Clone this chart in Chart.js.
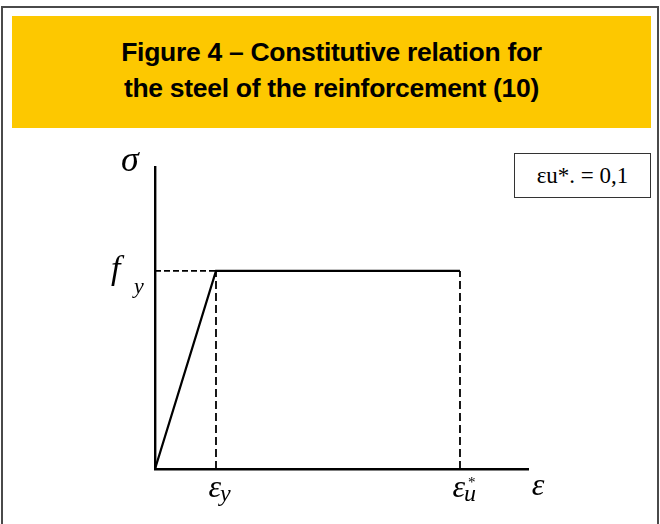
<!DOCTYPE html>
<html>
<head>
<meta charset="utf-8">
<script src="https://cdn.jsdelivr.net/npm/chart.js@4/dist/chart.umd.min.js"></script>
<style>
  html, body { margin: 0; padding: 0; background: #fff; }
  #wrap { position: relative; width: 660px; height: 524px; overflow: hidden; }
  #frame { position: absolute; left: 1px; top: 6px; width: 654px; height: 540px;
           border: 2px solid #4a4a4a; box-sizing: content-box; }
  #band { position: absolute; left: 12px; top: 16px; width: 639px; height: 112px;
          background: #fdc800; }
  #band div { position: absolute; left: 0; width: 100%; text-align: center;
              font-family: "Liberation Sans", Arial, sans-serif; font-weight: bold;
              font-size: 26.5px; color: #000; letter-spacing: -0.3px; }
  #note { position: absolute; left: 514px; top: 153px; width: 137px; height: 45px;
          border: 1px solid #333; box-sizing: border-box; text-align: center;
          font-family: "Liberation Serif", "Times New Roman", serif; font-size: 23px;
          line-height: 43px; color: #000; }
  canvas { position: absolute; left: 0; top: 0; }
</style>
</head>
<body>
<div id="wrap">
  <div id="frame"></div>
  <div id="band">
    <div style="top:21px">Figure 4 – Constitutive relation for</div>
    <div style="top:57px">the steel of the reinforcement (10)</div>
  </div>
  <div id="note">εu*. = 0,1</div>
  <canvas id="c" width="660" height="524"></canvas>
</div>
<script>
// Bilinear steel law: strain ε and normalised stress σ / fy
const epsY = 0.02;          // yield strain εy
const epsU = 0.1;           // ultimate strain εu*
const fy = 1;               // yield stress (normalised)
const strainMax = 0.1223;   // end of the ε axis
const stressMax = 1.525;    // end of the σ axis

const curveStrain = [0, epsY, epsU];
const curveStress = [0, fy, fy];

// Reference lines marking fy, εy and εu*
const guideFy  = { strain: [0, epsY], stress: [fy, fy] };
const guideEpsY = { strain: [epsY, epsY], stress: [0, fy] };
const guideEpsU = { strain: [epsU, epsU], stress: [0, fy] };

const toPoints = (xs, ys) => xs.map((x, i) => ({ x, y: ys[i] }));

// Axis labels: symbol, subscript, superscript, position on the axis
const xLabels = [
  { value: epsY, main: "ε", sub: "y", sup: "" },
  { value: epsU, main: "ε", sub: "u", sup: "*" }
];
const yLabels = [{ value: fy, main: "f", sub: "y" }];

const axisNames = {
  x: { main: "ε" },
  y: { main: "σ" }
};

const labelPlugin = {
  id: "mathLabels",
  afterDraw(chart) {
    const { ctx, scales: { x, y } } = chart;
    const base = y.getPixelForValue(0);
    const left = x.getPixelForValue(0);
    ctx.save();
    ctx.fillStyle = "#000";
    ctx.textBaseline = "alphabetic";
    // strain labels under the axis
    xLabels.forEach(l => {
      const px = x.getPixelForValue(l.value);
      ctx.font = 'italic 32px "Liberation Serif", serif';
      ctx.textAlign = "right";
      ctx.fillText(l.main, px + 5, base + 28);
      ctx.font = 'italic 24px "Liberation Serif", serif';
      ctx.textAlign = "left";
      ctx.fillText(l.sub, px + 4, base + 32);
      if (l.sup) {
        ctx.font = '15px "Liberation Serif", serif';
        ctx.fillText(l.sup, px + 8, base + 18);
      }
    });
    // stress label left of the axis
    yLabels.forEach(l => {
      const py = y.getPixelForValue(l.value);
      ctx.font = 'italic 34px "Liberation Serif", serif';
      ctx.textAlign = "left";
      ctx.fillText(l.main, left - 44, py + 8);
      ctx.font = 'italic 22px "Liberation Serif", serif';
      ctx.fillText(l.sub, left - 21, py + 22);
    });
    // axis names
    ctx.font = 'italic 32px "Liberation Serif", serif';
    ctx.textAlign = "center";
    ctx.fillText(axisNames.x.main, x.right + 10, base + 26);
    ctx.font = 'italic 36px "Liberation Serif", serif';
    ctx.fillText(axisNames.y.main, left - 25, y.top + 4);
    ctx.restore();
  }
};

const dashedH = { borderColor: "#000", borderWidth: 1.8, borderDash: [6, 3] };
const dashedV = { borderColor: "#000", borderWidth: 1.8, borderDash: [8, 4] };

new Chart(document.getElementById("c"), {
  type: "scatter",
  data: {
    datasets: [
      { data: toPoints(curveStrain, curveStress), showLine: true, borderColor: "#000",
        borderWidth: 2.2, pointRadius: 0, tension: 0 },
      { data: toPoints(guideFy.strain, guideFy.stress), showLine: true, pointRadius: 0, ...dashedH },
      { data: toPoints(guideEpsY.strain, guideEpsY.stress), showLine: true, pointRadius: 0, ...dashedV },
      { data: toPoints(guideEpsU.strain, guideEpsU.stress), showLine: true, pointRadius: 0, ...dashedV }
    ]
  },
  options: {
    responsive: false,
    animation: false,
    events: [],
    layout: { padding: { left: 155, right: 132, top: 167, bottom: 55 } },
    plugins: { legend: { display: false }, tooltip: { enabled: false }, title: { display: false } },
    scales: {
      x: { type: "linear", min: 0, max: strainMax,
           grid: { display: false, drawTicks: false, tickLength: 0 },
           ticks: { display: false, padding: 0 },
           border: { display: true, color: "#000", width: 2.4 } },
      y: { type: "linear", min: 0, max: stressMax,
           grid: { display: false, drawTicks: false, tickLength: 0 },
           ticks: { display: false, padding: 0 },
           border: { display: true, color: "#000", width: 2.4 } }
    }
  },
  plugins: [labelPlugin]
});
</script>
</body>
</html>
